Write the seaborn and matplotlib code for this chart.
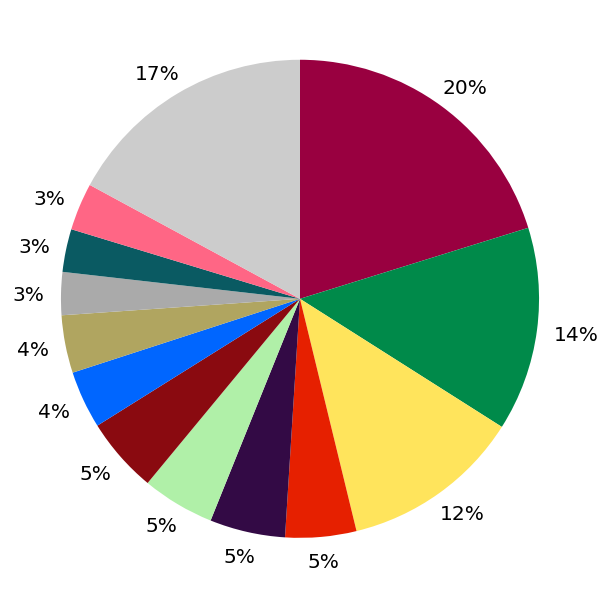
import numpy as np
import seaborn as sns
import matplotlib.pyplot as plt

# slice shares (percent), clockwise from 12 o'clock
shares = [20.2, 13.8, 12.2, 4.8, 5.1, 4.9, 5.1, 3.9, 3.9, 2.9, 2.9, 3.2, 17.1]
colors = ["#990040", "#008a4a", "#ffe45c", "#e62000", "#330a45", "#b0f0a8",
          "#8a0a10", "#0066ff", "#b0a560", "#aaaaaa", "#0a5a62", "#ff6685",
          "#cccccc"]

sns.set_theme(style="white")
plt.rcParams['font.family'] = ['DejaVu Sans']

fig = plt.figure(figsize=(6, 6), dpi=100)
ax = fig.add_axes([0, 0, 1, 1])
wedges, texts, autotexts = ax.pie(
    shares, colors=colors, startangle=90, counterclock=False,
    autopct='%.0f%%', pctdistance=1.07,
    textprops={'fontsize': 14.5, 'color': 'black'},
    wedgeprops={'linewidth': 0})
ax.set_xlim(-1.255, 1.255)
ax.set_ylim(-1.26, 1.25)
ax.set_aspect('equal')
ax.axis('off')

# push each label out so its box just clears the rim
fig.canvas.draw()
renderer = fig.canvas.get_renderer()
px_per_unit = ax.transData.transform((1, 0))[0] - ax.transData.transform((0, 0))[0]
for w, t in zip(wedges, autotexts):
    ang = np.deg2rad((w.theta1 + w.theta2) / 2)
    bb = t.get_window_extent(renderer)
    half_w = bb.width / 2 / px_per_unit
    half_h = 14.5 * 100 / 72 * 0.73 / 2 / px_per_unit
    x, y = t.get_position()
    t.set_position((x + half_w * np.cos(ang), y + half_h * np.sin(ang)))
    t.set_va('center_baseline')

fig.savefig("out.png", dpi=100)
